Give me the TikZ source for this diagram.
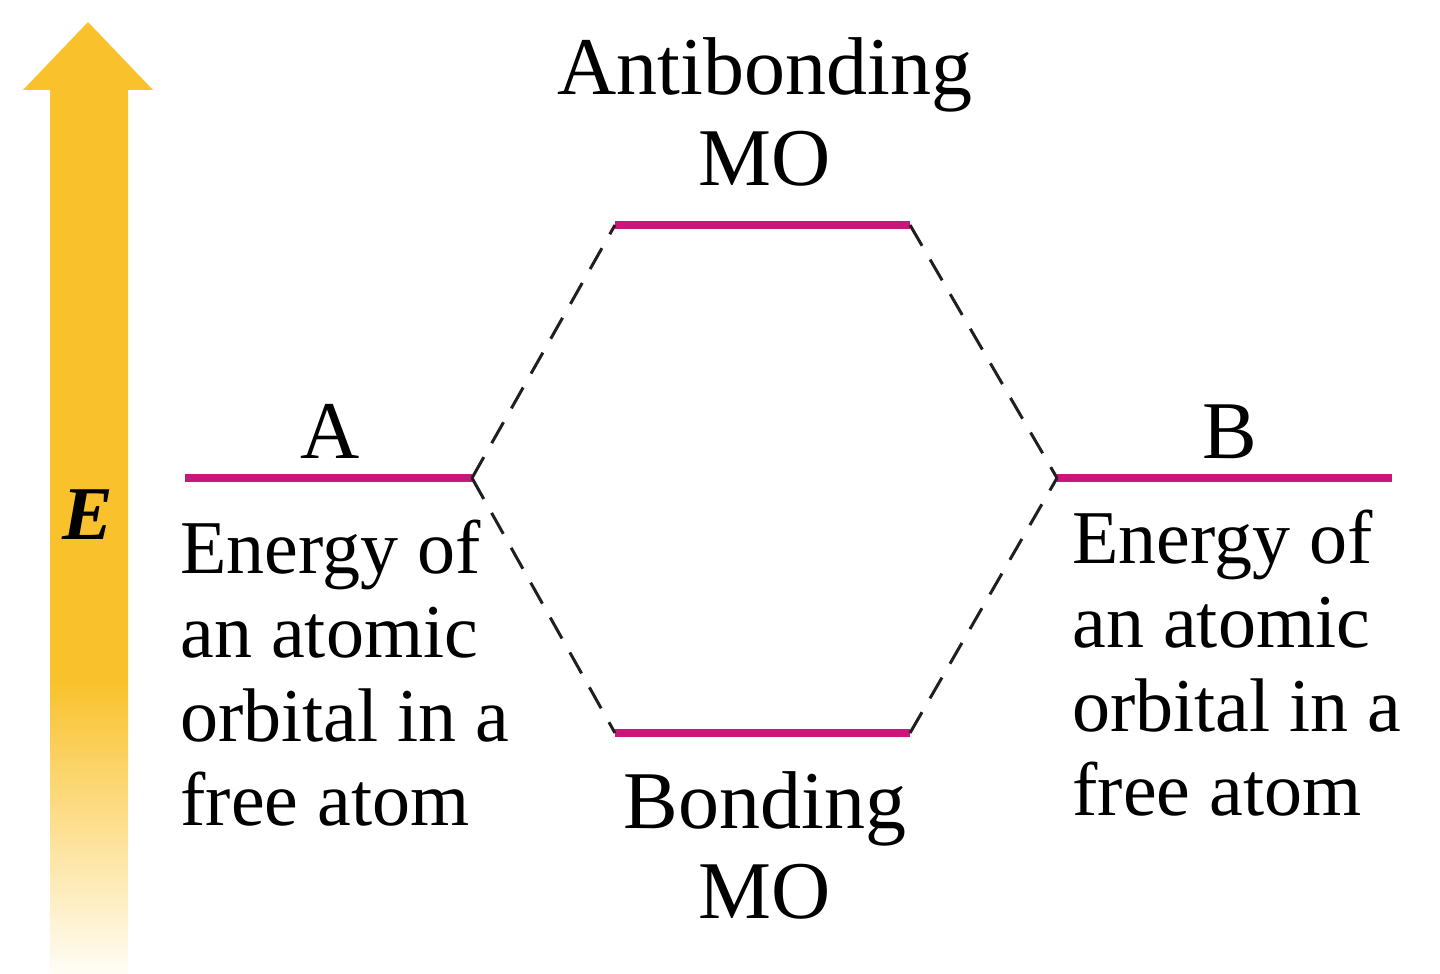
\documentclass[tikz,border=0pt]{standalone}
\usepackage{fontspec}
\setmainfont{Liberation Serif}
\definecolor{gold}{RGB}{249,194,44}
\definecolor{level}{RGB}{200,22,122}
\begin{document}
\begin{tikzpicture}[x=0.5pt,y=-0.5pt,
  lvl/.style={draw=level,line width=4.3pt},
  conn/.style={draw=black!88,line width=1.5pt,dash pattern=on 12pt off 8pt},
  lbl/.style={inner sep=0pt,font=\fontsize{41}{45}\selectfont},
  desc/.style={inner sep=0pt,align=left,font=\fontsize{38}{42}\selectfont}]
\useasboundingbox (0,0) rectangle (1440,974);
% energy arrow
\fill[gold] (50,681) -- (50,90) -- (23,90) -- (88,22) -- (153,90) -- (128,90) -- (128,681) -- cycle;
\shade[top color=gold,bottom color=gold!4] (50,680) rectangle (128,974);
\node[inner sep=0pt,font=\fontsize{38}{42}\selectfont\bfseries\itshape] (E) at (88,515) {E};
% levels
\coordinate (A1) at (185,478); \coordinate (A2) at (472,478);
\coordinate (B1) at (1057,478); \coordinate (B2) at (1392,478);
\coordinate (U1) at (615,225); \coordinate (U2) at (910,225);
\coordinate (L1) at (615,733); \coordinate (L2) at (910,733);
\draw[lvl] (A1) -- (A2);
\draw[lvl] (B1) -- (B2);
\draw[lvl] (U1) -- (U2);
\draw[lvl] (L1) -- (L2);
\draw[conn] (A2) -- (U1);
\draw[conn] (A2) -- (L1);
\draw[conn] (U2) -- (B1);
\draw[conn] (L2) -- (B1);
% labels
\node[lbl,anchor=base] (lA) at (330,458) {A};
\node[lbl,anchor=base] (lB) at (1230,458) {B};
\node[lbl,anchor=base] (anti) at (765,95) {Antibonding};
\node[lbl,anchor=base] (antimo) at (765,185) {MO};
\node[lbl,anchor=base] (bond) at (765,828) {Bonding};
\node[lbl,anchor=base] (bondmo) at (765,918) {MO};
\node[desc,anchor=north west] (dA) at (180,520) {Energy of\\an atomic\\orbital in a\\free atom};
\node[desc,anchor=north west] (dB) at (1072,510) {Energy of\\an atomic\\orbital in a\\free atom};
\end{tikzpicture}
\end{document}
